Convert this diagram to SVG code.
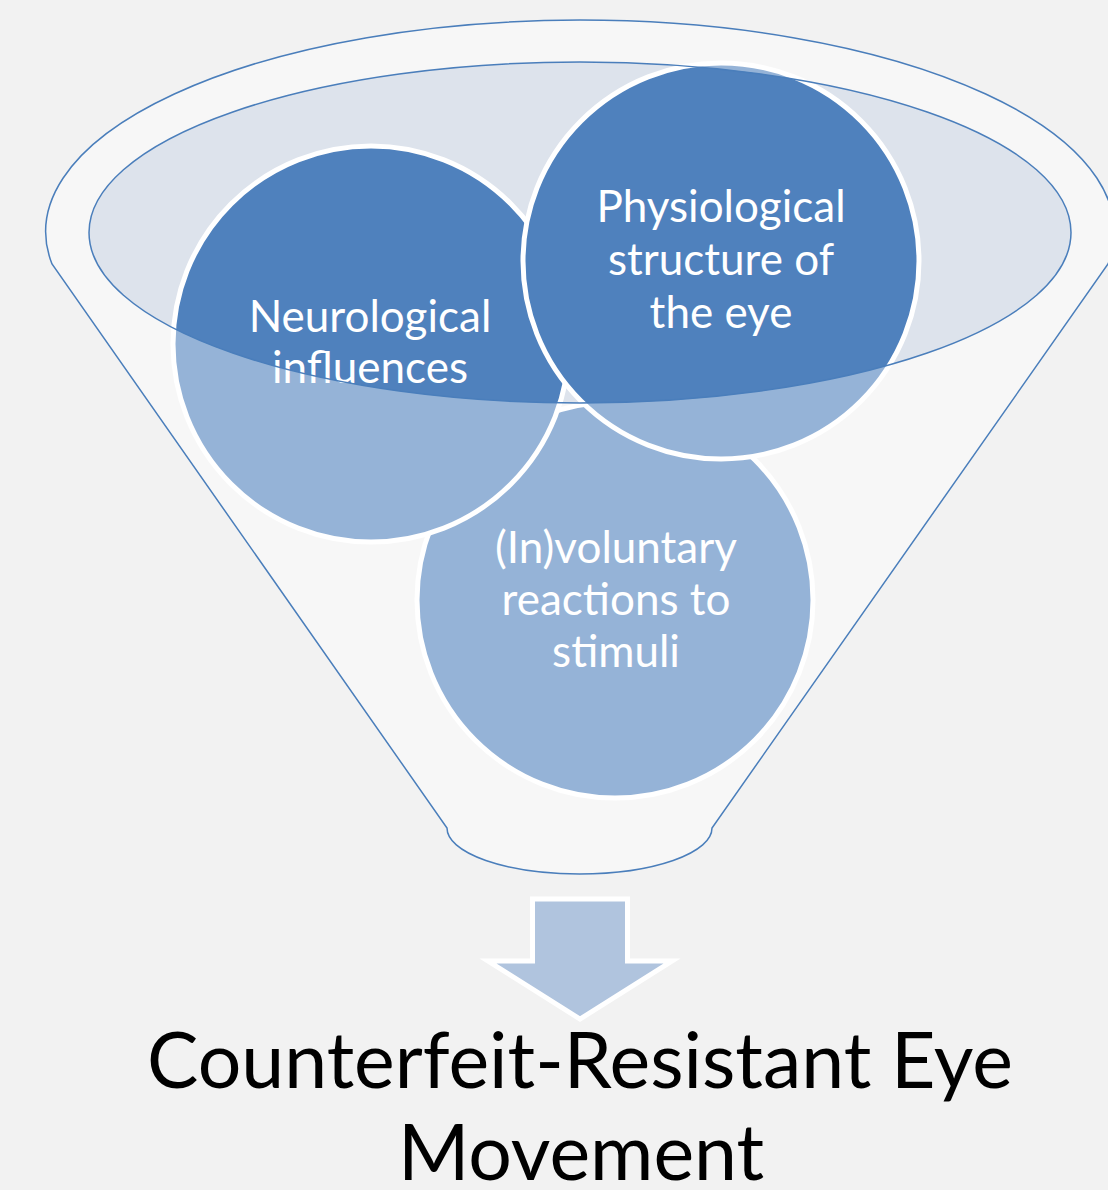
<svg xmlns="http://www.w3.org/2000/svg" width="1108" height="1190" viewBox="0 0 1108 1190">
<style>
.bubble{fill:#4F81BD;stroke:#FFFFFF;stroke-width:5}
.btxt{fill:#FFFFFF;font-family:Lato,"Open Sans",sans-serif;font-size:44px;text-anchor:middle}
.title{fill:#000000;font-family:Lato,"Open Sans",sans-serif;font-size:77px;text-anchor:middle}
.rim{fill:#FFFFFF;fill-opacity:0.4;fill-rule:evenodd;stroke:#4A7EBB;stroke-width:1.5}
.arrow{fill:#B0C4DE;stroke:#FFFFFF;stroke-width:5;stroke-linejoin:miter}
</style>
<rect x="0" y="0" width="1108" height="1190" fill="#F2F2F2"/>
<g id="funnel-mouth">
<ellipse cx="580" cy="232.5" rx="491" ry="170.5" fill="#DDE3EC"/>
</g>
<g id="node-involuntary">
<circle class="bubble" cx="615" cy="600" r="198"/>
<text class="btxt" x="616" y="563">(In)voluntary</text>
<text class="btxt" x="616" y="615">reactions to</text>
<text class="btxt" x="616" y="667">stimuli</text>
</g>
<g id="node-neurological">
<circle class="bubble" cx="371" cy="344" r="198"/>
<text class="btxt" x="370" y="332">Neurological</text>
<text class="btxt" x="370" y="383">influences</text>
</g>
<g id="node-physiological">
<circle class="bubble" cx="721" cy="261" r="198"/>
<text class="btxt" x="721" y="222">Physiological</text>
<text class="btxt" x="721" y="275">structure of</text>
<text class="btxt" x="721" y="328">the eye</text>
</g>
<g id="funnel-front">
<path class="rim" d="M52,264 A534.3,211.5 0 1 1 1108,264 L712,828 A132.5,46 0 0 1 447,828 Z M89,232.5 A491,170.5 0 1 0 1071,232.5 A491,170.5 0 1 0 89,232.5 Z"/>
</g>
<g id="connectors">
<polygon class="arrow" points="532.5,899 627.5,899 627.5,961 672,961 580,1019 488,961 532.5,961"/>
</g>
<g id="node-result">
<text class="title" x="580" y="1088">Counterfeit-Resistant Eye</text>
<text class="title" x="581" y="1180" font-size="79">Movement</text>
</g>
</svg>
